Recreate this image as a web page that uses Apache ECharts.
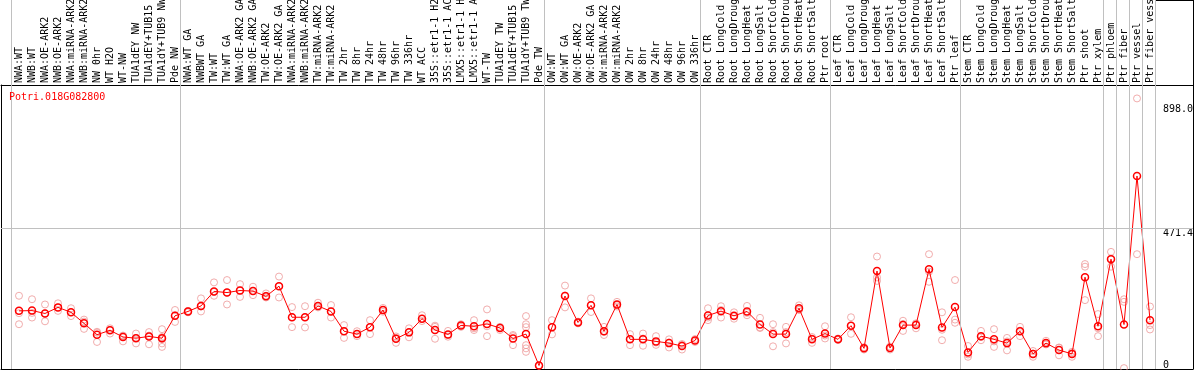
<!DOCTYPE html>
<html><head><meta charset="utf-8">
<script src="https://cdn.jsdelivr.net/npm/echarts@6/dist/echarts.min.js"></script>
<style>html,body{margin:0;padding:0;background:#fff}#c{width:1194px;height:370px}</style>
</head><body><div id="c"></div>
<script>
const geneName = 'Potri.018G082800';
const categories = [
 'NWA:WT','NWB:WT','NWA:OE-ARK2','NWB:OE-ARK2','NWA:miRNA-ARK2','NWB:miRNA-ARK2','NW 0hr','WT H2O','WT-NW','TUA1dEY NW',
 'TUA1dEY+TUB15 NW','TUA1dY+TUB9 NW','Pde NW','NWA:WT GA','NWBWT GA','TW:WT','TW:WT GA','NWA:OE-ARK2 GA','NWB:OE-ARK2 GA','TW:OE-ARK2',
 'TW:OE-ARK2 GA','NWA:miRNA-ARK2 GA','NWB:miRNA-ARK2 GA','TW:miRNA-ARK2','TW:miRNA-ARK2 GA','TW 2hr','TW 8hr','TW 24hr','TW 48hr','TW 96hr',
 'TW 336hr','WT ACC','35S::etr1-1 H2O','35S::etr1-1 ACC','LMX5::etr1-1 H2O','LMX5::etr1-1 ACC','WT-TW','TUA1dEY TW','TUA1dEY+TUB15 TW','TUA1dY+TUB9 TW',
 'Pde TW','OW:WT','OW:WT GA','OW:OE-ARK2','OW:OE-ARK2 GA','OW:miRNA-ARK2','OW:miRNA-ARK2 GA','OW 2hr','OW 8hr','OW 24hr',
 'OW 48hr','OW 96hr','OW 336hr','Root CTR','Root LongCold','Root LongDrought','Root LongHeat','Root LongSalt','Root ShortCold','Root ShortDrought',
 'Root ShortHeat','Root ShortSalt','Ptr root','Leaf CTR','Leaf LongCold','Leaf LongDrought','Leaf LongHeat','Leaf LongSalt','Leaf ShortCold','Leaf ShortDrought',
 'Leaf ShortHeat','Leaf ShortSalt','Ptr leaf','Stem CTR','Stem LongCold','Stem LongDrought','Stem LongHeat','Stem LongSalt','Stem ShortCold','Stem ShortDrought',
 'Stem ShortHeat','Stem ShortSalt','Ptr shoot','Ptr xylem','Ptr phloem','Ptr fiber','Ptr vessel','Ptr fiber vessel'
];
const means = [
 188,189,179,200,183,145,106,121,98,94,
 100,94,171,186,205,255,251,258,256,238,
 273,166,166,205,186,118,108,132,191,92,
 114,161,122,107,138,135,143,129,93,108,
 0,132,239,148,207,118,210,90,90,83,
 77,67,86,172,187,171,186,141,108,108,
 197,90,110,90,137,59,325,60,139,139,
 331,131,201,45,101,90,77,118,40,77,
 53,40,304,135,366,141,652,156
];
const replicates = [
 [240,142,180],[228,165,181],[210,152,179],[214,188,200],[197,170,183],[158,126,151],[116,81,113],[128,110,123],[103,83,101],[110,76,95],
 [115,73,103],[125,64,76,98,91],[191,150,173],[188,183,186],[231,186,203],[286,240,253],[294,210,251],[280,236,258],[271,242,256],[248,234,240],
 [306,234,273],[201,132,166],[204,131,166],[216,200,205],[208,165,186],[139,95,118],[118,101,108],[156,108,132],[198,185,191],[100,78,95],
 [128,97,114],[173,153,161],[137,92,133],[119,99,105],[142,133,138],[156,122,128],[193,101,135],[133,122,131],[105,70,101],[170,142,132,70,59,47],
 [0,0,0],[156,107,133],[275,200,241],[151,145,148],[231,184,207],[133,105,116],[219,203,208],[108,70,91],[110,68,93],[101,71,79],
 [90,62,79],[74,55,71],[91,81,86],[197,156,165],[204,165,191],[183,161,169],[205,173,181],[164,129,131],[142,66,115],[133,76,115],
 [207,191,193],[98,78,93],[135,93,103],[93,88,90],[166,109,137],[63,55,59],[375,303,291],[65,55,60],[154,119,143],[143,128,145],
 [383,288,323],[183,87,123],[294,158,147],[67,30,38],[119,87,98],[125,64,83],[95,52,83],[133,101,120],[50,30,41],[85,73,73],
 [62,35,61],[43,30,47],[349,340,225],[177,101,128],[391,340,368],[228,219,-9],[919,383],[203,139,124]
];
const groupLastIndex = [-1, 12, 40, 52, 62, 72, 83, 84, 85, 86, 87];
const yTickValues = [471.4, 898.0];
const yZeroTick = [0];

const FONT = 'DejaVu Sans Mono';
const xMin = -18 / 13, xMax = xMin + 1192 / 13;
const yMin = -12.04, yMax = 965.2;
const gridColor = '#c0c0c0';
const vLines = groupLastIndex.map(g => ({ xAxis: g + 5.5 / 13 }));

const meanData = means.map((v, i) => [i, v]);
const repData = [];
replicates.forEach((arr, i) => arr.forEach(v => repData.push([i, v])));

const chart = echarts.init(document.getElementById('c'), null, { renderer: 'canvas' });
chart.setOption({
  animation: false,
  backgroundColor: '#fff',
  title: { text: geneName, left: 9, top: 92, padding: 0, textStyle: { fontFamily: FONT, fontSize: 10, fontWeight: 'normal', color: '#ff0000' } },
  grid: [
    { left: 1, top: 0, width: 1192, height: 85, containLabel: false, outerBoundsMode: 'none' },
    { left: 1, top: 85, width: 1192, height: 284, containLabel: false, outerBoundsMode: 'none' }
  ],
  xAxis: [
    { gridIndex: 0, type: 'value', min: xMin, max: xMax, show: false },
    { gridIndex: 1, type: 'value', position: 'top', min: xMin, max: xMax,
      axisLine: { show: true, onZero: false, lineStyle: { color: '#000', width: 1 } },
      axisTick: { show: false }, splitLine: { show: false },
      axisLabel: { customValues: categories.map((_, i) => i), formatter: v => categories[Math.round(v)] || '',
        rotate: -90, margin: 2, fontFamily: FONT, fontSize: 10, color: '#000' } },
    { gridIndex: 1, type: 'value', position: 'bottom', min: xMin, max: xMax,
      axisLine: { show: true, onZero: false, lineStyle: { color: '#000', width: 1 } },
      axisTick: { show: false }, splitLine: { show: false }, axisLabel: { show: false } }
  ],
  yAxis: [
    { gridIndex: 0, type: 'value', position: 'right', min: 0, max: 1,
      axisLine: { show: true, onZero: false, lineStyle: { color: '#000', width: 1 } },
      axisTick: { show: false }, splitLine: { show: false }, axisLabel: { show: false } },
    { gridIndex: 1, type: 'value', position: 'right', min: yMin, max: yMax,
      axisLine: { show: true, onZero: false, lineStyle: { color: '#000', width: 1 } },
      axisTick: { show: false }, splitLine: { show: false },
      axisLabel: { customValues: yTickValues, inside: true, align: 'left', verticalAlign: 'top', lineHeight: 10, margin: 30,
        formatter: v => v.toFixed(1), fontFamily: FONT, fontSize: 10, color: '#000' } },
    { gridIndex: 1, type: 'value', position: 'left', min: yMin, max: yMax,
      axisLine: { show: true, onZero: false, lineStyle: { color: '#000', width: 1 } },
      axisTick: { show: false }, splitLine: { show: false }, axisLabel: { show: false } },
    { gridIndex: 1, type: 'value', position: 'right', min: yMin, max: yMax,
      axisLine: { show: false }, axisTick: { show: false }, splitLine: { show: false },
      axisLabel: { customValues: yZeroTick, inside: true, align: 'left', verticalAlign: 'middle', padding: [0, 0, 4, 0], margin: 30,
        formatter: v => String(v), fontFamily: FONT, fontSize: 10, color: '#000' } }
  ],
  graphic: [
    { type: 'line', shape: { x1: 1155, y1: 0.5, x2: 1194, y2: 0.5 }, style: { stroke: '#000', lineWidth: 1 }, silent: true }
  ],
  series: [
    { type: 'line', xAxisIndex: 0, yAxisIndex: 0, data: [], silent: true, z: 1,
      markLine: { silent: true, symbol: ['none', 'none'], label: { show: false },
        lineStyle: { color: gridColor, width: 1, type: 'solid' }, emphasis: { disabled: true }, data: vLines } },
    { type: 'line', xAxisIndex: 1, yAxisIndex: 1, data: [], silent: true, z: 1,
      markLine: { silent: true, symbol: ['none', 'none'], label: { show: false },
        lineStyle: { color: gridColor, width: 1, type: 'solid' }, emphasis: { disabled: true },
        data: vLines.concat([{ yAxis: yTickValues[0] }]) } },
    { type: 'scatter', xAxisIndex: 1, yAxisIndex: 1, data: repData, symbol: 'circle', symbolSize: 7, z: 3, silent: true,
      itemStyle: { color: 'rgba(0,0,0,0)', borderColor: '#ee9999', borderWidth: 1 } },
    { type: 'line', xAxisIndex: 1, yAxisIndex: 1, data: meanData, symbol: 'circle', symbolSize: 7, showSymbol: true, z: 4, silent: true,
      lineStyle: { color: '#ff0000', width: 1 },
      itemStyle: { color: 'rgba(0,0,0,0)', borderColor: '#ff0000', borderWidth: 1.5 } }
  ]
});
</script></body></html>
